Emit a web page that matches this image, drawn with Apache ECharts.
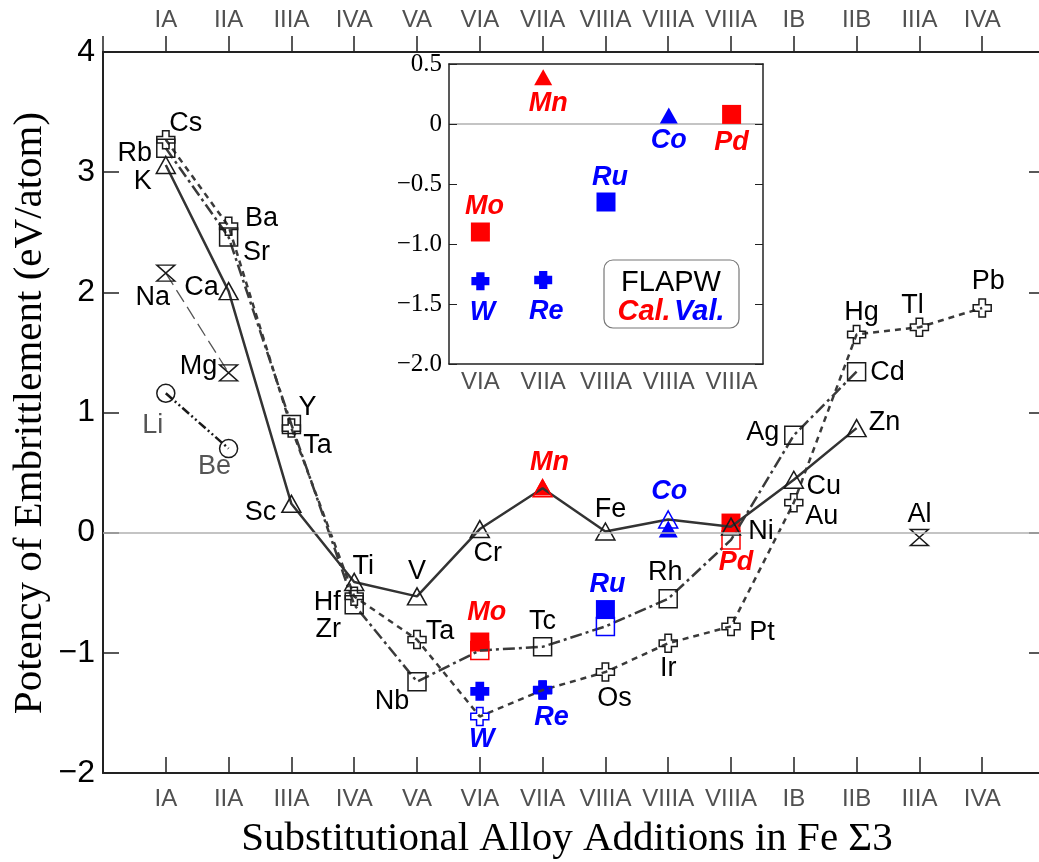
<!DOCTYPE html>
<html>
<head>
<meta charset="utf-8">
<script src="https://cdn.jsdelivr.net/npm/echarts@6/dist/echarts.min.js"></script>
<style>html,body{margin:0;padding:0;background:#fff}#c{width:1039px;height:862px}</style>
</head>
<body>
<div id="c"></div>
<script>
// ---------------- DATA ----------------
const categories = ['IA','IIA','IIIA','IVA','VA','VIA','VIIA','VIIIA','VIIIA','VIIIA','IB','IIB','IIIA','IVA'];
const yTicks = [-2,-1,0,1,2,3,4];

// open triangles (solid line)
const triGroups = [1,2,3,4,5,6,7,8,9,10,11,12];
const triElems  = ['K','Ca','Sc','Ti','V','Cr','Mn','Fe','Co','Ni','Cu','Zn'];
const triVals   = [3.06,2.01,0.24,-0.41,-0.53,0.03,0.37,0.01,0.11,0.05,0.44,0.87];

// open squares (dash-dot line)
const sqGroups = [1,2,3,4,5,6,7,8,9,10,11,12];
const sqElems  = ['Rb','Sr','Y','Zr','Nb','Mo','Tc','Ru','Rh','Pd','Ag','Cd'];
const sqVals   = [3.20,2.46,0.90,-0.60,-1.24,-0.98,-0.95,-0.78,-0.55,-0.06,0.81,1.34];

// open crosses (dotted line)
const plusGroups = [1,2,3,4,5,6,7,8,9,10,11,12,13,14];
const plusElems  = ['Cs','Ba','Ta','Hf','Ta','W','Re','Os','Ir','Pt','Au','Hg','Tl','Pb'];
const plusVals   = [3.27,2.55,0.87,-0.53,-0.89,-1.53,-1.31,-1.16,-0.92,-0.78,0.25,1.65,1.71,1.87];

// hourglasses (long dashed line) + Al
const hgGroups = [1,2];
const hgElems  = ['Na','Mg'];
const hgVals   = [2.16,1.33];
const alGroups = [13];
const alElems  = ['Al'];
const alVals   = [-0.04];

// circles (dash-dot-dot line)
const circGroups = [1,2];
const circElems  = ['Li','Be'];
const circVals   = [1.16,0.70];

// FLAPW values: Cal. (red) / Val. (blue)
const refElems   = ['Mo','W','Mn','Re','Ru','Co','Pd'];
const refKind    = ['Cal.','Val.','Cal.','Val.','Val.','Val.','Cal.'];
const refShape   = ['square','plus','triangle','plus','square','triangle','square'];
const refGroups  = [6,6,7,7,8,9,10];
const refMainVals= [-0.91,-1.32,0.38,-1.31,-0.64,0.03,0.08];
const insetCats  = ['VIA','VIIA','VIIIA','VIIIA','VIIIA'];
const refInsetIdx= [0,0,1,1,2,3,4];
const refInsetVals=[-0.90,-1.31,0.39,-1.30,-0.65,0.07,0.08];
const insetTicks = [-2.0,-1.5,-1.0,-0.5,0,0.5];

// ---------------- STYLE / LAYOUT ----------------
const RED='#ff0000', BLUE='#0000ff', INK='#333333';
const kindColor = k => k==='Cal.' ? RED : BLUE;
const SYM = {
  triangle:'triangle',
  square:'rect',
  plus:'path://M3.2,0H6.8V3.2H10V6.8H6.8V10H3.2V6.8H0V3.2H3.2Z',
  plusFat:'path://M2.7,0H7.3V2.7H10V7.3H7.3V10H2.7V7.3H0V2.7H2.7Z',
  hourglass:'path://M0,0L10,0L0,10L10,10Z',
  circle:'circle'
};
const SIZE = {triangle:[19,17], square:18, plus:18, hourglass:[18,16], circle:18};
// label offsets (px from point)
const triOff  = [[-23,17],[-27,-4],[-31,9],[9,-15],[0,-25],[8,24],[7,-26],[5,-22],[1,-28],[30,5],[30,7],[28,-6]];
const sqOff   = [[-31,5],[28,15],[16,-17],[-26,25],[-25,20],[7,-38],[0,-25],[2,-42],[-3,-26],[5,23],[-31,-3],[31,1]];
const plusOff = [[20,-16],[33,-8],[26,17],[-27,6],[23,-8],[2,23],[9,27],[9,26],[0,25],[31,6],[28,14],[5,-22],[-7,-22],[6,-26]];
const hgOff   = [[-13,24],[-30,-6]];
const alOff   = [[0,-23]];
const circOff = [[-13,32],[-14,18]];
const insetOff= [[4,-25],[2,31],[5,26],[3,32],[4,-24],[0,25],[0,28]];

const SANS = "'Liberation Sans', Arial, sans-serif";
const SERIF = "'Liberation Serif', 'Times New Roman', serif";
const minus = v => (v<0 ? '\u2212' : '') + Math.abs(v);

function refIndex(el){ return refElems.indexOf(el); }
function openItem(g, v, el){
  const r = refIndex(el);
  const d = {value:[g,v], name:el};
  if (r>=0) d.itemStyle = {borderColor: kindColor(refKind[r])};
  return d;
}
function labelItems(groups, vals, elems, offs, baseColor){
  return groups.map((g,i)=>{
    const el = elems[i], r = refIndex(el);
    const colored = r>=0;
    return {
      value:[g, vals[i]], name: el,
      label:{
        show:true, position:'inside', formatter: el, offset: offs[i],
        color: colored ? kindColor(refKind[r]) : baseColor,
        fontWeight: colored ? 'bold' : 'normal',
        fontStyle: colored ? 'italic' : 'normal',
        fontSize: 27, fontFamily: SANS, opacity:1
      }
    };
  });
}

function lineSeries(groups, vals, elems, shape, lineStyle, symSize){
  return {
    type:'line', xAxisIndex:0, yAxisIndex:0, animation:false, silent:true,
    data: groups.map((g,i)=>openItem(g, vals[i], elems[i])),
    symbol: SYM[shape], symbolSize: symSize || SIZE[shape], showAllSymbol:true,
    itemStyle:{color:'rgba(0,0,0,0)', borderColor:'#1a1a1a', borderWidth:1.5, opacity:1},
    lineStyle: lineStyle, z:3
  };
}

// filled reference markers on the main chart
const mainRefSeries = ['square','triangle','plus'].map(shape=>({
  type:'scatter', xAxisIndex:0, yAxisIndex:0, animation:false, silent:true, z:2,
  symbol: shape==='plus' ? SYM.plusFat : SYM[shape],
  symbolSize: shape==='triangle' ? [19,17] : 19,
  itemStyle:{opacity:1},
  data: refElems.map((el,i)=> refShape[i]===shape ? {
      value:[refGroups[i], refMainVals[i]], name: el,
      itemStyle:{color: kindColor(refKind[i]), opacity:1}
    } : null).filter(Boolean)
}));

// inset markers
const insetSeries = ['square','triangle','plus'].map(shape=>({
  type:'scatter', xAxisIndex:2, yAxisIndex:2, animation:false, silent:true, z:5,
  symbol: shape==='plus' ? SYM.plusFat : SYM[shape],
  symbolSize: shape==='triangle' ? [18,16] : (shape==='plus'? 18 : 19),
  itemStyle:{opacity:1},
  data: refElems.map((el,i)=> refShape[i]===shape ? {
      value:[refInsetIdx[i], refInsetVals[i]], name: el,
      itemStyle:{color: kindColor(refKind[i]), opacity:1}
    } : null).filter(Boolean)
}));
const insetLabelSeries = {
  type:'scatter', xAxisIndex:2, yAxisIndex:2, animation:false, silent:true, z:6,
  symbolSize:1, itemStyle:{color:'rgba(0,0,0,0)', opacity:1},
  data: refElems.map((el,i)=>({
    value:[refInsetIdx[i], refInsetVals[i]], name: el,
    label:{show:true, position:'inside', formatter: el, offset: insetOff[i], opacity:1,
      color: kindColor(refKind[i]), fontWeight:'bold', fontStyle:'italic', fontSize:27, fontFamily:SANS}
  })),
  markLine:{silent:true, symbol:'none', label:{show:false}, animation:false,
    lineStyle:{color:'#b0b0b0', width:1.5, type:'solid'}, data:[{yAxis:0}]}
};

const labelSeries = {
  type:'scatter', xAxisIndex:0, yAxisIndex:0, animation:false, silent:true, z:6,
  symbolSize:1, itemStyle:{color:'rgba(0,0,0,0)', opacity:1},
  data: [].concat(
    labelItems(triGroups, triVals, triElems, triOff, '#000'),
    labelItems(sqGroups, sqVals, sqElems, sqOff, '#000'),
    labelItems(plusGroups, plusVals, plusElems, plusOff, '#000'),
    labelItems(hgGroups, hgVals, hgElems, hgOff, '#000'),
    labelItems(alGroups, alVals, alElems, alOff, '#000'),
    labelItems(circGroups, circVals, circElems, circOff, '#555')
  )
};

const zeroLineSeries = {
  type:'line', xAxisIndex:0, yAxisIndex:0, data:[], silent:true, animation:false, z:1,
  markLine:{silent:true, symbol:'none', label:{show:false}, animation:false,
    lineStyle:{color:'#b0b0b0', width:1.5, type:'solid'}, data:[{yAxis:0}]}
};

const mainXLabel = {
  formatter: v => (v>=1 && v<=categories.length) ? categories[v-1] : '',
  color:'#505050', fontSize:24, fontFamily:SANS
};
const AL = w => ({show:true, onZero:false, lineStyle:{color:'#222', width:w}});

const option = {
  backgroundColor:'#fff',
  animation:false,
  grid:[
    {left:103, top:52, width:942, height:721, containLabel:false, outerBoundsMode:'none'},
    {left:449, top:64, width:314, height:300, show:true, backgroundColor:'#fff', borderWidth:0, z:4,
     containLabel:false, outerBoundsMode:'none'}
  ],
  xAxis:[
    {type:'value', gridIndex:0, min:0, max:15, interval:1, position:'bottom',
     axisLine:AL(2),
     axisTick:{inside:true, length:16, lineStyle:{color:'#222', width:1.5}},
     axisLabel:Object.assign({margin:14}, mainXLabel), splitLine:{show:false}},
    {type:'value', gridIndex:0, min:0, max:15, interval:1, position:'top',
     axisLine:AL(2),
     axisTick:{inside:false, length:16, lineStyle:{color:'#222', width:1.5}},
     axisLabel:Object.assign({margin:20}, mainXLabel), splitLine:{show:false}},
    {type:'category', gridIndex:1, data:insetCats, boundaryGap:true, position:'bottom', z:5,
     axisLine:AL(1.5),
     axisTick:{inside:true, alignWithLabel:true, length:8, lineStyle:{color:'#222', width:1}},
     axisLabel:{interval:0, color:'#505050', fontSize:24, fontFamily:SANS, margin:6}, splitLine:{show:false}},
    {type:'category', gridIndex:1, data:insetCats, boundaryGap:true, position:'top', z:5,
     axisLine:AL(1.5),
     axisTick:{inside:true, alignWithLabel:true, length:8, lineStyle:{color:'#222', width:1}},
     axisLabel:{show:false}, splitLine:{show:false}}
  ],
  yAxis:[
    {type:'value', gridIndex:0, min:yTicks[0], max:yTicks[yTicks.length-1], interval:1, position:'left',
     axisLine:AL(2),
     axisTick:{show:true, inside:true, length:16, lineStyle:{color:'#222', width:1.5}},
     axisLabel:{formatter: minus, color:'#000', fontSize:32, fontFamily:SANS, margin:8},
     splitLine:{show:false}},
    {type:'value', gridIndex:0, min:yTicks[0], max:yTicks[yTicks.length-1], interval:1, position:'right',
     axisLine:AL(2),
     axisTick:{show:true, inside:true, length:16, lineStyle:{color:'#222', width:1.5}},
     axisLabel:{show:false}, splitLine:{show:false}},
    {type:'value', gridIndex:1, min:insetTicks[0], max:insetTicks[insetTicks.length-1], interval:0.5, position:'left', z:5,
     axisLine:AL(1.5),
     axisTick:{show:true, inside:true, length:8, lineStyle:{color:'#222', width:1}},
     axisLabel:{formatter: v => v===0 ? '0' : (v<0?'\u2212':'') + (Math.abs(v)===0.5 ? '0.5' : Math.abs(v).toFixed(1)),
                color:'#000', fontSize:25, fontFamily:SERIF, margin:7},
     splitLine:{show:false}},
    {type:'value', gridIndex:1, min:insetTicks[0], max:insetTicks[insetTicks.length-1], interval:0.5, position:'right', z:5,
     axisLine:AL(1.5),
     axisTick:{show:true, inside:true, length:8, lineStyle:{color:'#222', width:1}},
     axisLabel:{show:false}, splitLine:{show:false}}
  ],
  series:[].concat(
    [zeroLineSeries],
    mainRefSeries,
    [
      lineSeries(circGroups, circVals, circElems, 'circle', {color:'#1a1a1a', width:2.5, type:[9,3,2,3,2,3]}),
      lineSeries(hgGroups, hgVals, hgElems, 'hourglass', {color:'#555', width:1.3, type:[14,6]}),
      lineSeries(alGroups, alVals, alElems, 'hourglass', {color:'#555', width:1.3}),
      lineSeries(plusGroups, plusVals, plusElems, 'plus', {color:'#3a3a3a', width:2.5, type:[6,5]}),
      lineSeries(sqGroups, sqVals, sqElems, 'square', {color:'#3a3a3a', width:2.5, type:[12,4,3,4]}),
      lineSeries(triGroups, triVals, triElems, 'triangle', {color:INK, width:2.5, type:'solid'}),
      labelSeries
    ],
    insetSeries,
    [insetLabelSeries]
  ),
  graphic:[
    {type:'text', z:10, silent:true, x:30, y:413, rotation:Math.PI/2,
     style:{text:'Potency of Embrittlement (eV/atom)', font:"41px "+SERIF, fill:'#000', textAlign:'center', textVerticalAlign:'middle'}},
    {type:'text', z:10, silent:true, x:567, y:839,
     style:{text:'Substitutional Alloy Additions in Fe \u03A33', font:"41px "+SERIF, fill:'#000', textAlign:'center', textVerticalAlign:'middle'}},
    {type:'rect', z:20, silent:true, shape:{x:604, y:260, width:135, height:68, r:9},
     style:{fill:'#fff', stroke:'#777', lineWidth:1.2}},
    {type:'text', z:21, silent:true, x:671, y:283,
     style:{text:'FLAPW', font:"29px "+SANS, fill:'#000', textAlign:'center', textVerticalAlign:'middle'}},
    {type:'text', z:21, silent:true, x:671, y:312,
     style:{text:'{r|Cal.} {b|Val.}', textAlign:'center', textVerticalAlign:'middle',
       rich:{r:{fill:RED, font:"italic bold 29px "+SANS}, b:{fill:BLUE, font:"italic bold 29px "+SANS}}}}
  ]
};

const chart = echarts.init(document.getElementById('c'), null, {renderer:'canvas'});
chart.setOption(option);
</script>
</body>
</html>
